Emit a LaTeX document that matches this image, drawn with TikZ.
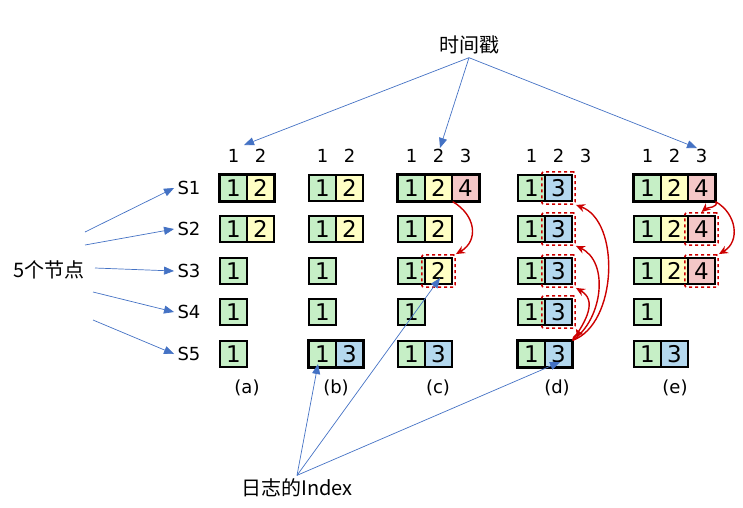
\documentclass[tikz,border=0pt]{standalone}
\usepackage{fontspec}
\setmainfont{DejaVu Sans}
\newfontfamily\cjk{Noto Sans CJK SC}
\usetikzlibrary{arrows.meta,fit}
\definecolor{cg}{HTML}{C6EFC6}
\definecolor{cy}{HTML}{FFFFC4}
\definecolor{cp}{HTML}{F4C7C7}
\definecolor{cb}{HTML}{B4D8EE}
\definecolor{ar}{HTML}{4472C4}
\definecolor{rd}{HTML}{CC0000}
\tikzset{
 cell/.style={draw=black,line width=1.3pt,minimum width=27pt,minimum height=26pt,inner sep=0pt,font=\fontsize{23}{23}\selectfont},
 thick box/.style={draw=black,line width=3pt,inner sep=0pt},
 dbox/.style={draw=rd,dashed,line width=1.6pt,inner sep=2.5pt,rounded corners=2pt},
 barr/.style={draw=ar,line width=0.7pt,-{Triangle[length=10pt,width=8pt]}},
 rarr/.style={draw=rd,line width=1.4pt,-{Stealth[length=9pt,width=8pt]}},
 lbl/.style={font=\fontsize{18}{18}\selectfont},
 cn/.style={font=\cjk\fontsize{20}{20}\selectfont}
}
\newcommand{\cellrow}[4]{% name, x, y, list color/text
 \foreach \c/\t [count=\i] in {#4}{
  \node[cell,fill=\c] (#1-\i) at ({#2+13.5+27*(\i-1)},#3) {\t};
 }}
\begin{document}
\begin{tikzpicture}[x=1pt,y=-1pt]
\useasboundingbox (0,0) rectangle (743,507);
\foreach \x/\n in {220/a,309/b,398/c,518/d,634/e}{
 \node[lbl] at (\x+13.5,156) {1};
 \node[lbl] at (\x+40.5,156) {2};
}
\node[lbl] at (398+67.5,156) {3};
\node[lbl] at (518+67.5,156) {3};
\node[lbl] at (634+67.5,156) {3};
\foreach \i/\y in {1/188,2/229,3/271,4/312,5/354}{
 \node[lbl] (S\i) at (189,\y) {S\i};
}
\cellrow{a1}{220}{188}{cg/1,cy/2}
\cellrow{a2}{220}{229}{cg/1,cy/2}
\cellrow{a3}{220}{271}{cg/1}
\cellrow{a4}{220}{312}{cg/1}
\cellrow{a5}{220}{354}{cg/1}
\cellrow{b1}{309}{188}{cg/1,cy/2}
\cellrow{b2}{309}{229}{cg/1,cy/2}
\cellrow{b3}{309}{271}{cg/1}
\cellrow{b4}{309}{312}{cg/1}
\cellrow{b5}{309}{354}{cg/1,cb/3}
\cellrow{c1}{398}{188}{cg/1,cy/2,cp/4}
\cellrow{c2}{398}{229}{cg/1,cy/2}
\cellrow{c3}{398}{271}{cg/1,cy/2}
\cellrow{c4}{398}{312}{cg/1}
\cellrow{c5}{398}{354}{cg/1,cb/3}
\cellrow{d1}{518}{188}{cg/1,cb/3}
\cellrow{d2}{518}{229}{cg/1,cb/3}
\cellrow{d3}{518}{271}{cg/1,cb/3}
\cellrow{d4}{518}{312}{cg/1,cb/3}
\cellrow{d5}{518}{354}{cg/1,cb/3}
\cellrow{e1}{634}{188}{cg/1,cy/2,cp/4}
\cellrow{e2}{634}{229}{cg/1,cy/2,cp/4}
\cellrow{e3}{634}{271}{cg/1,cy/2,cp/4}
\cellrow{e4}{634}{312}{cg/1}
\cellrow{e5}{634}{354}{cg/1,cb/3}
\node[thick box,fit=(a1-1)(a1-2)] {};
\node[thick box,fit=(b5-1)(b5-2)] {};
\node[thick box,fit=(c1-1)(c1-3)] {};
\node[thick box,fit=(d5-1)(d5-2)] {};
\node[thick box,fit=(e1-1)(e1-3)] {};
\node[dbox,fit=(c3-2)] (dc3) {};
\foreach \i in {1,...,4}{\node[dbox,fit=(d\i-2)] (dd\i) {};}
\node[dbox,fit=(e2-3)] (de2) {};
\node[dbox,fit=(e3-3)] (de3) {};
\foreach \x/\n in {247/a,336/b,438/c,557/d,675/e}{\node[lbl] (cap\n) at (\x,388) {(\n)};}
\draw[rarr] (c1-2.south east) to[out=-30,in=30,looseness=1.3] (dc3.north east);
\draw[rarr] (d5-2.north east) to[out=20,in=-20,looseness=0.9] (dd1.south east);
\draw[rarr] (d5-2.north east) to[out=35,in=-25,looseness=1] (dd2.south east);
\draw[rarr] (d5-2.north east) to[out=55,in=-30,looseness=1.2] (dd3.south east);
\draw[rarr] (d5-2.north east) to[out=85,in=-60,looseness=1.2] (dd4.south east);
\draw[rarr] (e1-3.south east) to[out=-60,in=40] (de2.north);
\draw[rarr] (e1-3.south east) to[out=-30,in=30,looseness=1.2] (de3.north east);
\node[cn] (ts) at (469,45) {时间戳};
\node[cn] (nodes) at (49,270) {5个节点};
\node[cn] (idx) at (297,488) {日志的Index};
\coordinate (t1) at (244,145); \coordinate (t2) at (440,148); \coordinate (t3) at (697,148);
\draw[barr] (ts.south) -- (t1);
\draw[barr] (ts.south) -- (t2);
\draw[barr] (ts.south) -- (t3);
\coordinate (n1) at (85,232); \coordinate (n2) at (85,245); \coordinate (n3) at (95,268);
\coordinate (n4) at (93,292); \coordinate (n5) at (93,320);
\draw[barr] (n1) -- (S1.west);
\draw[barr] (n2) -- (S2.west);
\draw[barr] (n3) -- (S3.west);
\draw[barr] (n4) -- (S4.west);
\draw[barr] (n5) -- (S5.west);
\coordinate (i1) at (318,364); \coordinate (i2) at (440,278); \coordinate (i3) at (560,362);
\draw[barr] (idx.north) -- (i1);
\draw[barr] (idx.north) -- (i2);
\draw[barr] (idx.north) -- (i3);
\end{tikzpicture}
\end{document}
